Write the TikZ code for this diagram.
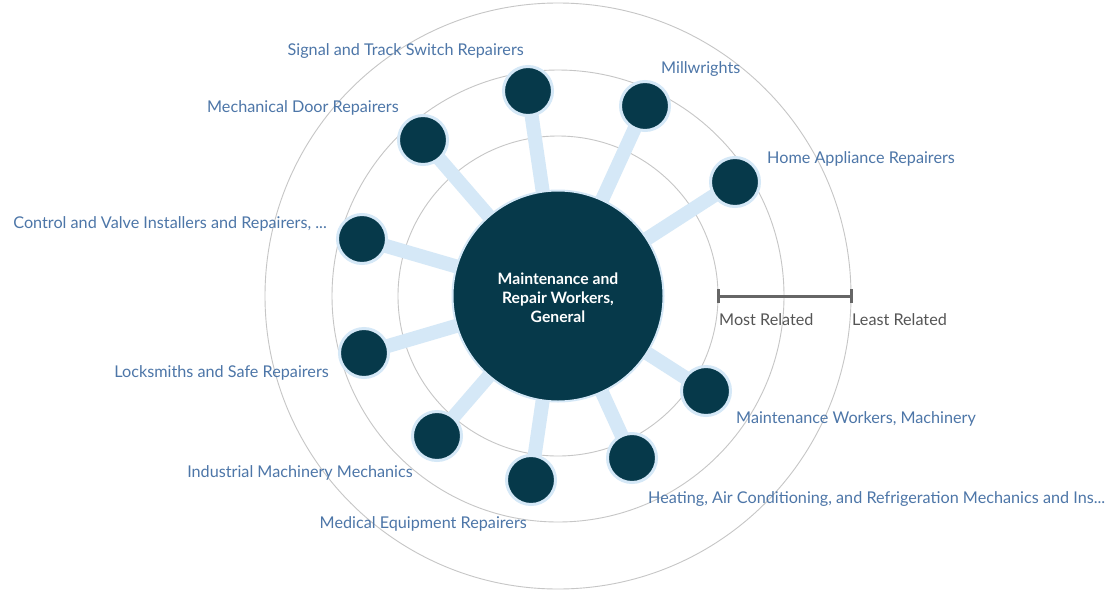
\documentclass[tikz,border=0pt]{standalone}
\usepackage{fontspec}
\setmainfont{Lato}
\usetikzlibrary{backgrounds}
\definecolor{ringgray}{HTML}{C6C6C6}
\definecolor{linkblue}{HTML}{D5E8F7}
\definecolor{nodedark}{HTML}{06394A}
\definecolor{labelblue}{HTML}{4D76A8}
\definecolor{scalegray}{HTML}{666666}
\definecolor{scaletext}{HTML}{555555}
\tikzset{
  ring/.style={draw=ringgray, line width=0.9pt},
  conn/.style={draw=linkblue, line width=14pt},
  sat/.style={circle, fill=nodedark, draw=linkblue, line width=3pt, minimum size=49pt, inner sep=0pt},
  hub/.style={circle, fill=nodedark, draw=linkblue, line width=2pt, minimum size=211pt, inner sep=0pt,
    text=white, align=center, font=\fontsize{15.7}{19}\selectfont\bfseries},
  lab/.style={inner sep=0pt, text=labelblue, font=\fontsize{16.2}{18}\selectfont},
  scalelab/.style={inner sep=0pt, text=scaletext, font=\fontsize{16.2}{18}\selectfont},
  scalebar/.style={draw=scalegray, line width=3pt}
}
\begin{document}
\begin{tikzpicture}[x=1pt,y=-1pt]
\useasboundingbox (0,0) rectangle (1108,592);
\node[hub] (c) at (558,296) {};
\node[text=white, align=center, font=\fontsize{15.7}{19}\selectfont\bfseries, inner sep=0pt] (ct) at (558,298) {Maintenance and\\Repair Workers,\\General};
\node[sat] (n1) at (528,91) {};
\node[sat] (n2) at (645,106) {};
\node[sat] (n3) at (735,182) {};
\node[sat] (n4) at (423,140) {};
\node[sat] (n5) at (362,239) {};
\node[sat] (n6) at (364,353) {};
\node[sat] (n7) at (437,436) {};
\node[sat] (n8) at (531,480) {};
\node[sat] (n9) at (632,458) {};
\node[sat] (n10) at (706,391) {};
\begin{scope}[on background layer]
  \fill[white] (0,0) rectangle (1108,592);
  \draw[ring] (c.center) circle[radius=160];
  \draw[ring] (c.center) circle[radius=226];
  \draw[ring] (c.center) circle[radius=293];
  \foreach \n in {n1,n2,n3,n4,n5,n6,n7,n8,n9,n10}
    \draw[conn] (c.center) -- (\n.center);
\end{scope}
\node[lab, anchor=east] (l1) at (524,51) {Signal and Track Switch Repairers};
\node[lab, anchor=west] (l2) at (661,69) {Millwrights};
\node[lab, anchor=west] (l3) at (767,159) {Home Appliance Repairers};
\node[lab, anchor=east] (l4) at (399,108) {Mechanical Door Repairers};
\node[lab, anchor=east] (l5) at (327,224) {Control and Valve Installers and Repairers, ...};
\node[lab, anchor=east] (l6) at (329,373) {Locksmiths and Safe Repairers};
\node[lab, anchor=east] (l7) at (413,473) {Industrial Machinery Mechanics};
\node[lab, anchor=east] (l8) at (527,524) {Medical Equipment Repairers};
\node[lab, anchor=west] (l9) at (648,499) {Heating, Air Conditioning, and Refrigeration Mechanics and Ins...};
\node[lab, anchor=west] (l10) at (736,419) {Maintenance Workers, Machinery};
\coordinate (s1) at (718,296);
\coordinate (s2) at (851,296);
\draw[scalebar] (s1) -- (s2);
\draw[scalebar] ([yshift=-7pt]s1) -- ([yshift=7pt]s1);
\draw[scalebar] ([yshift=-7pt]s2) -- ([yshift=7pt]s2);
\node[scalelab, anchor=west] (m1) at (719,320) {Most Related};
\node[scalelab, anchor=west] (m2) at (852,320) {Least Related};
\end{tikzpicture}
\end{document}
